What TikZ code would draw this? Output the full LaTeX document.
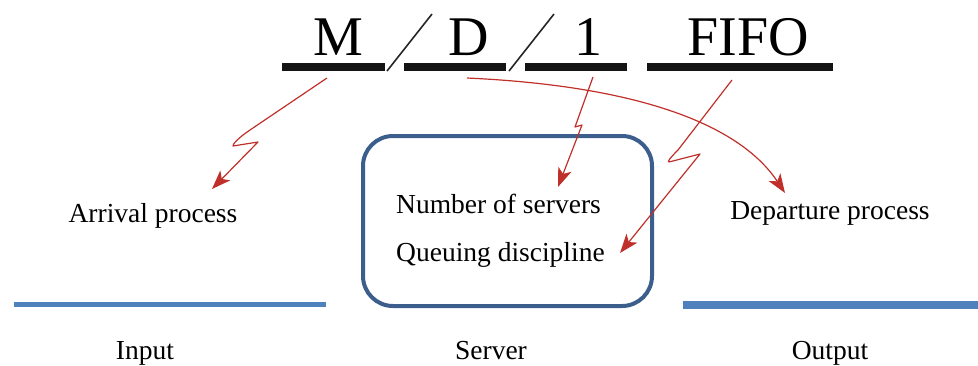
\documentclass[tikz,border=0pt]{standalone}
\usepackage{fontspec}
\setmainfont{Liberation Serif}
\usetikzlibrary{arrows.meta}
\definecolor{boxblue}{RGB}{60,94,140}
\definecolor{lineblue}{RGB}{79,129,189}
\definecolor{arrred}{RGB}{192,48,42}
\begin{document}
\begin{tikzpicture}[x=1pt,y=-1pt,
  big/.style={font=\fontsize{56}{60}\selectfont, anchor=base, inner sep=0pt},
  lbl/.style={font=\fontsize{27.5}{30}\selectfont, anchor=base, inner sep=0pt},
  bar/.style={line width=7.5pt, black!92},
  slash/.style={line width=1.6pt, black!85},
  redarr/.style={draw=arrred, line width=1.2pt, -{Stealth[length=19pt,width=14pt,inset=5pt]}, line join=round},
  ioline/.style={lineblue}]
\useasboundingbox (0,0) rectangle (978,365);
% notation
\node[big] (m) at (338,55) {M};
\node[big] (d) at (469,55) {D};
\node[big] (one) at (588,55) {1};
\node[big] (fifo) at (748,55) {FIFO};
\coordinate (mb1) at (282,67); \coordinate (mb2) at (385,67);
\coordinate (db1) at (404,67); \coordinate (db2) at (506,67);
\coordinate (ob1) at (525,67); \coordinate (ob2) at (627,67);
\coordinate (fb1) at (647,67); \coordinate (fb2) at (833,67);
\draw[bar] (mb1) -- (mb2);
\draw[bar] (db1) -- (db2);
\draw[bar] (ob1) -- (ob2);
\draw[bar] (fb1) -- (fb2);
\coordinate (s1a) at (387,71); \coordinate (s1b) at (432,14);
\coordinate (s2a) at (509,71); \coordinate (s2b) at (554,14);
\draw[slash] (s1a) -- (s1b);
\draw[slash] (s2a) -- (s2b);
% server box
\draw[boxblue, line width=4pt, rounded corners=30pt] (363,136) rectangle (652,306);
\node[lbl, anchor=base west] (nos) at (396,213) {Number of servers};
\node[lbl, anchor=base west] (qd) at (396,261) {Queuing discipline};
\node[lbl] (arr) at (153,222) {Arrival process};
\node[lbl] (dep) at (830,219) {Departure process};
% io lines
\coordinate (in1) at (14,304); \coordinate (in2) at (326,304);
\coordinate (out1) at (683,305); \coordinate (out2) at (978,305);
\draw[ioline, line width=5pt] (in1) -- (in2);
\draw[ioline, line width=8pt] (out1) -- (out2);
\node[lbl] (inp) at (145,359) {Input};
\node[lbl] (srv) at (491,359) {Server};
\node[lbl] (outp) at (830,359) {Output};
% red arrows
\coordinate (a1s) at (327,78);
\coordinate (a1t) at (212,189);
\draw[redarr] (a1s) -- (250,130) .. controls (238,138) and (232,145) .. (233,146) -- (258,142) -- (a1t);
\coordinate (a2s) at (593,77);
\coordinate (a2t) at (558,187);
\draw[redarr] (a2s) -- (575,127) -- (582,125) -- (a2t);
\coordinate (a3s) at (732,80);
\coordinate (a3t) at (620,253);
\draw[redarr] (a3s) -- (678,150) .. controls (670,158) and (667,162) .. (669,162) -- (700,154) -- (a3t);
\coordinate (a4s) at (467,78);
\coordinate (a4t) at (785,193);
\draw[redarr] (a4s) .. controls (640,86) and (740,125) .. (a4t);
\end{tikzpicture}
\end{document}
